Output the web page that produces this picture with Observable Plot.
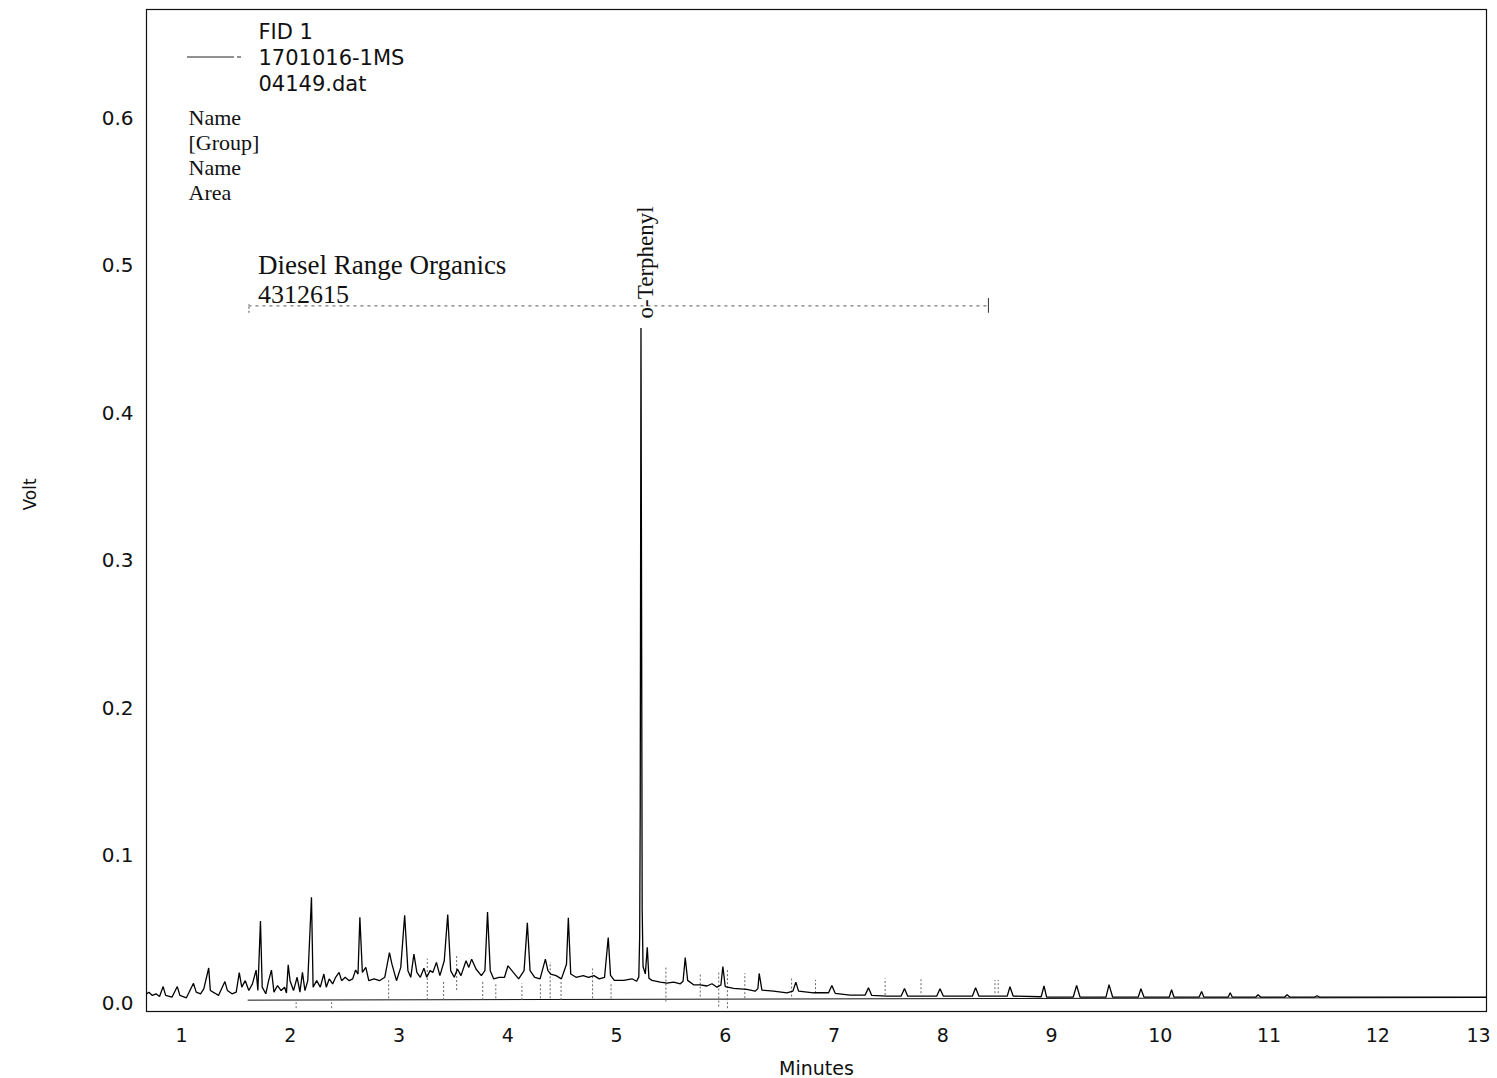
<!DOCTYPE html>
<html>
<head>
<meta charset="utf-8">
<script src="https://cdn.jsdelivr.net/npm/d3@7"></script>
<script src="https://cdn.jsdelivr.net/npm/@observablehq/plot@0.6"></script>
<style>
  html, body { margin: 0; padding: 0; background: #fff; }
  #chart svg { display: block; }
</style>
</head>
<body>
<div id="chart"></div>
<script>
// Retention time (minutes) of the FID trace
const traceTime = [
  0.680,0.700,0.732,0.765,0.798,0.831,0.854,0.912,0.961,0.985,
  1.045,1.110,1.135,1.175,1.205,1.250,1.265,1.305,1.340,1.399,
  1.422,1.464,1.503,1.531,1.554,1.586,1.619,1.652,1.686,1.702,
  1.726,1.742,1.775,1.801,1.827,1.850,1.883,1.916,1.948,1.965,
  1.981,1.998,2.030,2.063,2.089,2.112,2.135,2.161,2.195,2.210,
  2.243,2.276,2.309,2.331,2.358,2.390,2.417,2.449,2.472,2.505,
  2.542,2.574,2.601,2.623,2.640,2.663,2.695,2.722,2.771,2.820,
  2.869,2.912,2.935,2.977,3.016,3.052,3.082,3.108,3.137,3.164,
  3.196,3.229,3.255,3.285,3.311,3.344,3.376,3.416,3.448,3.475,
  3.508,3.537,3.570,3.616,3.642,3.668,3.708,3.757,3.790,3.814,
  3.839,3.871,3.920,3.970,4.002,4.051,4.100,4.150,4.180,4.205,
  4.248,4.297,4.346,4.369,4.395,4.444,4.493,4.540,4.557,4.579,
  4.628,4.694,4.743,4.792,4.841,4.890,4.924,4.945,4.980,5.066,
  5.142,5.185,5.205,5.213,5.218,5.225,5.231,5.236,5.244,5.265,
  5.283,5.298,5.326,5.403,5.464,5.525,5.587,5.612,5.632,5.654,
  5.709,5.770,5.832,5.878,5.924,5.960,5.978,6.000,6.076,6.199,
  6.275,6.300,6.312,6.337,6.444,6.567,6.622,6.649,6.674,6.812,
  6.950,6.980,7.011,7.148,7.286,7.317,7.347,7.485,7.617,7.648,
  7.678,7.944,7.975,8.006,8.272,8.302,8.333,8.593,8.618,8.648,
  8.905,8.931,8.955,9.200,9.231,9.262,9.501,9.529,9.562,9.798,
  9.822,9.850,10.083,10.104,10.126,10.358,10.380,10.401,10.625,10.643,
  10.662,10.879,10.900,10.922,11.145,11.166,11.191,11.420,11.442,11.465,
  13.000
];
// Detector signal (Volt)
const traceVolt = [
  0.0065,0.0076,0.0054,0.0065,0.0047,0.0114,0.0054,0.0042,0.0114,0.0054,
  0.0038,0.0136,0.0076,0.0065,0.0098,0.0240,0.0087,0.0070,0.0054,0.0148,
  0.0087,0.0065,0.0076,0.0208,0.0110,0.0154,0.0087,0.0132,0.0226,0.0087,
  0.0558,0.0110,0.0065,0.0154,0.0226,0.0076,0.0121,0.0087,0.0110,0.0070,
  0.0262,0.0154,0.0087,0.0177,0.0076,0.0210,0.0087,0.0154,0.0720,0.0110,
  0.0154,0.0110,0.0199,0.0110,0.0166,0.0132,0.0177,0.0210,0.0154,0.0177,
  0.0154,0.0166,0.0226,0.0199,0.0584,0.0210,0.0244,0.0154,0.0166,0.0154,
  0.0177,0.0345,0.0266,0.0154,0.0244,0.0598,0.0222,0.0177,0.0334,0.0210,
  0.0177,0.0239,0.0177,0.0222,0.0210,0.0278,0.0188,0.0289,0.0602,0.0222,
  0.0177,0.0233,0.0188,0.0289,0.0244,0.0300,0.0233,0.0188,0.0222,0.0620,
  0.0222,0.0166,0.0177,0.0177,0.0255,0.0210,0.0166,0.0222,0.0546,0.0222,
  0.0177,0.0166,0.0300,0.0222,0.0199,0.0188,0.0166,0.0266,0.0580,0.0199,
  0.0177,0.0188,0.0177,0.0188,0.0166,0.0177,0.0447,0.0190,0.0156,0.0156,
  0.0167,0.0150,0.0180,0.0450,0.1300,0.4580,0.2500,0.0640,0.0250,0.0200,
  0.0380,0.0170,0.0156,0.0144,0.0137,0.0144,0.0133,0.0150,0.0310,0.0156,
  0.0126,0.0126,0.0118,0.0133,0.0110,0.0125,0.0250,0.0113,0.0102,0.0095,
  0.0083,0.0100,0.0203,0.0090,0.0083,0.0072,0.0083,0.0144,0.0083,0.0072,
  0.0072,0.0122,0.0068,0.0056,0.0056,0.0106,0.0054,0.0049,0.0049,0.0101,
  0.0049,0.0049,0.0099,0.0049,0.0049,0.0106,0.0049,0.0049,0.0113,0.0049,
  0.0045,0.0118,0.0043,0.0043,0.0122,0.0043,0.0043,0.0127,0.0043,0.0043,
  0.0099,0.0043,0.0043,0.0093,0.0043,0.0043,0.0081,0.0043,0.0043,0.0072,
  0.0043,0.0043,0.0059,0.0043,0.0043,0.0059,0.0043,0.0043,0.0052,0.0043,
  0.0043
];

// Peak event markers (dashed ticks)
const markerTime = [2.054,2.380,2.905,3.260,3.410,3.530,3.770,3.890,4.130,4.300,4.390,4.490,4.780,4.950,5.454,5.770,5.940,6.020,6.180,6.610,6.830,7.470,7.800,8.480,8.510];
const markerTop  = [0.0020,0.0020,0.0154,0.0300,0.0154,0.0320,0.0154,0.0132,0.0132,0.0132,0.0278,0.0154,0.0233,0.0132,0.0246,0.0201,0.0212,0.0223,0.0201,0.0167,0.0156,0.0167,0.0160,0.0156,0.0156];
const markerBot  = [-0.0036,-0.0036,0.0031,0.0020,0.0020,0.0087,0.0020,0.0031,0.0020,0.0031,0.0031,0.0020,0.0031,0.0031,0.0009,0.0043,-0.0025,-0.0036,0.0032,0.0043,0.0066,0.0054,0.0066,0.0066,0.0066];

// Integration baseline
const baseTime = [1.612, 13.0];
const baseVolt = [0.0022, 0.0040];

// Diesel Range Organics integration window
const windowTime = [1.62, 8.42];
const windowVolt = 0.473;

// Axis ticks
const xTicks = [1,2,3,4,5,6,7,8,9,10,11,12,13];
const yTicks = [0,0.1,0.2,0.3,0.4,0.5,0.6];

// Labels
const peakName = "o-Terphenyl";
const peakTime = 5.225;
const groupName = "Diesel Range Organics";
const groupArea = "4312615";
const legendLines = ["FID 1", "1701016-1MS", "04149.dat"];
const infoLines = ["Name", "[Group]", "Name", "Area"];

const trace = traceTime.map((t, i) => ({t, v: traceVolt[i]}));
const markers = markerTime.map((t, i) => ({t, top: markerTop[i], bot: markerBot[i]}));
const baseline = baseTime.map((t, i) => ({t, v: baseVolt[i]}));

const serif = "Liberation Serif, Times New Roman, serif";
const sans = "DejaVu Sans, sans-serif";

// layout offsets (pixels from the frame's top-left) for the legend block
const legendDy = [23, 49, 75];
const infoDy = [108, 133, 158, 183];

const legendSwatch = (index, scales, values, dims) => {
  const g = d3.create("svg:g");
  g.append("line")
    .attr("x1", dims.marginLeft + 41).attr("x2", dims.marginLeft + 88)
    .attr("y1", dims.marginTop + 48).attr("y2", dims.marginTop + 48)
    .attr("stroke", "#222").attr("stroke-width", 1);
  g.append("line")
    .attr("x1", dims.marginLeft + 91).attr("x2", dims.marginLeft + 95)
    .attr("y1", dims.marginTop + 48).attr("y2", dims.marginTop + 48)
    .attr("stroke", "#222").attr("stroke-width", 1);
  return g.node();
};

const legendMarks = legendLines.map((s, i) =>
  Plot.text([s], {frameAnchor: "top-left", text: d => d, dx: 112, dy: legendDy[i], textAnchor: "start", lineAnchor: "middle", fontFamily: sans, fontSize: 21, fill: "#111"}));
const infoMarks = infoLines.map((s, i) =>
  Plot.text([s], {frameAnchor: "top-left", text: d => d, dx: 42, dy: infoDy[i], textAnchor: "start", lineAnchor: "middle", fontFamily: serif, fontSize: 22, fill: "#111"}));

const chart = Plot.plot({
  width: 1497,
  height: 1078,
  marginLeft: 146,
  marginRight: 11,
  marginTop: 9,
  marginBottom: 67,
  style: {fontFamily: sans, fontSize: "20px", color: "#111", background: "#fff"},
  x: {domain: [0.678, 13], label: null},
  y: {domain: [-0.0055, 0.674], label: null},
  marks: [
    Plot.axisX(xTicks.slice(0, -1), {tickSize: 0, tickPadding: 17, tickFormat: d3.format("d"), label: null, fontSize: 19}),
    Plot.axisX(xTicks.slice(-1), {tickSize: 0, tickPadding: 17, tickFormat: d3.format("d"), label: null, fontSize: 19, dx: -8}),
    Plot.axisY(yTicks, {tickSize: 0, tickPadding: 13, tickFormat: d3.format(".1f"), label: null, fontSize: 20}),
    Plot.frame({stroke: "#111", strokeWidth: 1.2}),
    // integration baseline
    Plot.line(baseline, {x: "t", y: "v", stroke: "#111", strokeWidth: 1}),
    // peak event markers
    Plot.ruleX(markers, {x: "t", y1: "bot", y2: "top", stroke: "#666", strokeWidth: 1, strokeDasharray: "2,2"}),
    // chromatogram trace
    Plot.line(trace, {x: "t", y: "v", stroke: "#000", strokeWidth: 1.3, strokeLinejoin: "miter"}),
    // group integration window bracket
    Plot.ruleY([windowVolt], {x1: windowTime[0], x2: windowTime[1], stroke: "#555", strokeWidth: 1, strokeDasharray: "3,4"}),
    Plot.ruleX([windowTime[0]], {y1: windowVolt - 0.005, y2: windowVolt + 0.001, stroke: "#555", strokeWidth: 1, strokeDasharray: "2,2"}),
    Plot.ruleX([windowTime[1]], {y1: windowVolt - 0.005, y2: windowVolt + 0.005, stroke: "#333", strokeWidth: 1}),
    Plot.text([groupName], {x: windowTime[0], y: 0.5007, text: d => d, textAnchor: "start", lineAnchor: "middle", dx: 9, fontFamily: serif, fontSize: 27, fill: "#111"}),
    Plot.text([groupArea], {x: windowTime[0], y: 0.4805, text: d => d, textAnchor: "start", lineAnchor: "middle", dx: 9, fontFamily: serif, fontSize: 26, fill: "#111"}),
    // peak label
    Plot.text([peakName], {x: peakTime, y: 0.4645, text: d => d, rotate: -90, textAnchor: "start", lineAnchor: "middle", dx: 5, fontFamily: serif, fontSize: 23, fill: "#111"}),
    // legend
    ...legendMarks,
    ...infoMarks,
    legendSwatch,
    // axis titles
    Plot.text(["Volt"], {frameAnchor: "left", text: d => d, dx: -116, rotate: -90, lineAnchor: "middle", fontFamily: sans, fontSize: 17, fill: "#111"}),
    Plot.text(["Minutes"], {frameAnchor: "bottom", text: d => d, dy: 57, lineAnchor: "middle", fontFamily: sans, fontSize: 19, fill: "#111"})
  ]
});

document.getElementById("chart").appendChild(chart);
</script>
</body>
</html>
